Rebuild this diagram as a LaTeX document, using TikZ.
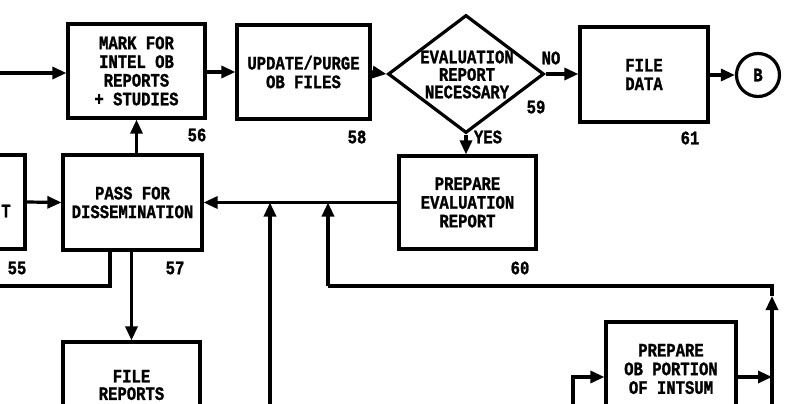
\documentclass[tikz,border=0pt]{standalone}
\usepackage{fontspec}
\setmainfont{Liberation Mono}[FakeStretch=0.82, BoldFeatures={FakeBold=1.2}]
\usetikzlibrary{arrows.meta,shapes.geometric}
\tikzset{
  box/.style={draw, line width=3.2pt, rectangle, inner sep=0pt, align=center,
    font=\bfseries\fontsize{19}{18.7}\selectfont},
  lbl/.style={inner sep=0pt, font=\bfseries\fontsize{19}{18.7}\selectfont},
  txt/.style={inner sep=0pt, align=center, font=\bfseries\fontsize{19}{17.5}\selectfont},
  ln/.style={line width=3.2pt},
  arr/.style={line width=3.2pt, -{Triangle[length=14pt,width=12pt]}},
}
\begin{document}
\begin{tikzpicture}[x=1pt,y=-1pt]
\useasboundingbox (0,0) rectangle (785,404);
\fill[white] (0,0) rectangle (785,404);
% boxes
\node[box, minimum width=137pt, minimum height=94pt] (b56) at (136.5,71) {MARK FOR\\INTEL OB\\REPORTS\\+ STUDIES};
\node[box, minimum width=133pt, minimum height=94pt] (b58) at (303.5,72) {UPDATE/PURGE\\OB FILES};
\node[draw, line width=3.2pt, diamond, inner sep=0pt, minimum width=156pt, minimum height=118pt] (d59) at (466,74) {};
\node[txt] (d59t) at (467,74.5) {EVALUATION\\REPORT\\NECESSARY};
\node[box, minimum width=128pt, minimum height=95pt] (b61) at (644,74.5) {FILE\\DATA};
\node[draw, line width=3.2pt, circle, minimum size=43pt, inner sep=0pt, font=\bfseries\fontsize{19}{18}\selectfont] (cB) at (758,75) {B};
\node[box, minimum width=140pt, minimum height=94pt] (b55) at (-45,202) {};
\node[lbl] (t55) at (6,211) {T};
\node[box, minimum width=139pt, minimum height=95pt] (b57) at (132.5,202.5) {PASS FOR\\DISSEMINATION};
\node[box, minimum width=137pt, minimum height=93pt] (b60) at (467.5,202.5) {PREPARE\\EVALUATION\\REPORT};
\node[box, minimum width=137pt, minimum height=96pt] (bFR) at (131.5,390) {};
\node[txt] (bFRt) at (131.5,385) {FILE\\REPORTS};
\node[box, minimum width=130pt, minimum height=94pt] (bIS) at (671,369) {PREPARE\\OB PORTION\\OF INTSUM};
% numbers
\node[lbl] (n56) at (197,135) {56};
\node[lbl] (n58) at (357,137) {58};
\node[lbl] (n59) at (536,107) {59};
\node[lbl] (n61) at (690,138) {61};
\node[lbl] (n57) at (175,268) {57};
\node[lbl] (n55) at (17,268) {55};
\node[lbl] (n60) at (520,268) {60};
\node[lbl] (no) at (551,58) {NO};
\node[lbl] (yes) at (488,137) {YES};
% coordinates
\coordinate (inL) at (-5,73);
\coordinate (v1s) at (270,415);
\coordinate (r1) at (772,415);
\coordinate (rm) at (772,296);
\coordinate (c1) at (772,286);
\coordinate (c2) at (328,286);
\coordinate (l1) at (110,286);
\coordinate (l2) at (-5,286);
\coordinate (s1) at (573,415);
\coordinate (s2) at (573,377);
% connectors
\draw[arr] (inL) -- (inL -| b56.west);
\draw[arr] (b56.east |- 0,72) -- (b58.west |- 0,72);
\draw[arr] (b58.east) -- (d59.west);
\draw[arr] (d59.east) -- (b61.west |- d59.east);
\draw[arr] (b61.east |- cB.west) -- (cB.west);
\draw[arr] (d59.south) -- (d59.south |- b60.north);
\draw[arr] (b56.south |- b57.north) -- (b56.south);
\draw[arr] (b55.east) -- (b57.west);
\draw[arr] (b60.west) -- (b57.east);
\draw[arr] (v1s) -- (v1s |- b57.east);
\draw[arr] (r1) -- (rm);
\draw[ln] (rm) -- (c1) -- (c2);
\draw[arr] (c2) -- (c2 |- b57.east);
\draw[ln] (b57.south -| l1) -- (l1) -- (l2);
\draw[arr] (b57.south -| bFR.north) -- (bFR.north);
\draw[arr] (s1) -- (s2) -- (s2 -| bIS.west);
\draw[arr] (bIS.east |- s2) -- (s2 -| r1);
\end{tikzpicture}
\end{document}
